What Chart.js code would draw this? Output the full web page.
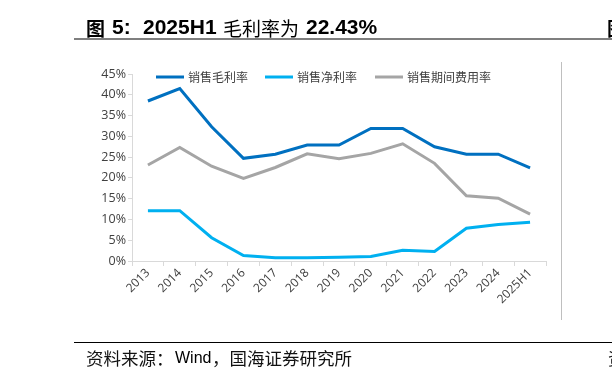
<!DOCTYPE html>
<html><head><meta charset="utf-8">
<script src="https://cdn.jsdelivr.net/npm/chart.js@4/dist/chart.umd.min.js"></script>
<style>
html,body{margin:0;padding:0;background:#fff;width:612px;height:379px;overflow:hidden;position:relative;}
#wrap{position:absolute;left:0;top:0;width:612px;height:379px;}
.t{position:absolute;white-space:nowrap;line-height:1;}
.tb{font:bold 21px "Liberation Sans",sans-serif;color:#000;top:15px;}
.tc{font:19px "Noto Sans CJK SC",sans-serif;color:#000;top:14px;}
#tline{position:absolute;left:74px;top:38px;width:538px;height:2px;background:#7f7f7f;}
#bline{position:absolute;left:74px;top:342px;width:538px;height:1px;background:#000;}
.fc{font:17.5px "Noto Sans CJK SC",sans-serif;color:#111;top:345px;}
.fl{font:16px "Liberation Sans",sans-serif;color:#000;top:349px;}
#vline{position:absolute;left:561px;top:62px;width:1px;height:258px;background:#bfbfbf;}
</style></head>
<body>
<div id="wrap"><canvas id="c" width="612" height="379"></canvas></div>
<div class="t tc" style="left:86px;font-weight:bold;">图</div>
<div class="t tb" style="left:112px;">5:</div>
<div class="t tb" style="left:143px;">2025H1</div>
<div class="t tc" style="left:223px;">毛利率为</div>
<div class="t tb" style="left:306px;">22.43%</div>
<div id="tline"></div>
<div id="vline"></div>
<div id="bline"></div>
<div class="t fc" style="left:86px;">资料来源：</div>
<div class="t fl" style="left:175px;">Wind</div>
<div class="t fc" style="left:212px;">，国海证券研究所</div>
<div class="t tc" style="left:607px;font-weight:bold;">图</div>
<div class="t fc" style="left:608px;">资</div>
<script>
const categories = ["2013","2014","2015","2016","2017","2018","2019","2020","2021","2022","2023","2024","2025H1"];
const grossMargin = [38.5, 41.5, 32.3, 24.7, 25.7, 27.9, 27.9, 31.9, 31.9, 27.5, 25.7, 25.7, 22.43];
const netMargin = [12.1, 12.1, 5.6, 1.3, 0.8, 0.8, 0.9, 1.1, 2.6, 2.3, 7.9, 8.8, 9.3];
const expenseRatio = [23.1, 27.3, 22.8, 19.9, 22.5, 25.8, 24.6, 25.9, 28.2, 23.5, 15.7, 15.1, 11.3];
const seriesNames = ["销售毛利率","销售净利率","销售期间费用率"];
const yTicks = [0,5,10,15,20,25,30,35,40,45];

const colors = ["#0070C0","#00B0F0","#A5A5A5"];
const legendX = [156, 265, 375];

const legendPlugin = {
  id: 'customLegend',
  afterDraw(chart) {
    const ctx = chart.ctx;
    ctx.save();
    chart.data.datasets.forEach((ds, i) => {
      const x = legendX[i], y = 77;
      ctx.strokeStyle = ds.borderColor;
      ctx.lineWidth = 3;
      ctx.beginPath(); ctx.moveTo(x, y); ctx.lineTo(x + 28, y); ctx.stroke();
      ctx.fillStyle = '#404040';
      ctx.font = '12px "Noto Sans CJK SC", sans-serif';
      ctx.textBaseline = 'middle';
      ctx.fillText(ds.label, x + 32, y);
    });
    ctx.restore();
  }
};

new Chart(document.getElementById('c'), {
  type: 'line',
  data: {
    labels: categories,
    datasets: [
      {label: seriesNames[0], data: grossMargin, borderColor: colors[0]},
      {label: seriesNames[1], data: netMargin, borderColor: colors[1]},
      {label: seriesNames[2], data: expenseRatio, borderColor: colors[2]}
    ].map(d => Object.assign(d, {borderWidth: 3, pointRadius: 0, tension: 0, fill: false, backgroundColor: d.borderColor}))
  },
  options: {
    responsive: false,
    animation: false,
    layout: {padding: {left: 86, right: 66, top: 74, bottom: 68}},
    plugins: {legend: {display: false}, tooltip: {enabled: false}},
    scales: {
      x: {
        offset: true,
        grid: {display: true, drawOnChartArea: false, drawTicks: true, tickLength: 5, color: '#d9d9d9', offset: true},
        border: {display: true, color: '#d9d9d9', width: 1},
        ticks: {minRotation: 45, maxRotation: 45, color: '#404040', font: {family: '"Open Sans", sans-serif', size: 12}, padding: 0, autoSkip: false},
        afterFit(s) { s.height = 50; }
      },
      y: {
        min: 0, max: 45,
        afterBuildTicks(s) { s.ticks = yTicks.map(v => ({value: v})); },
        grid: {display: true, drawOnChartArea: false, drawTicks: true, tickLength: 4, color: '#d9d9d9'},
        border: {display: true, color: '#d9d9d9', width: 1},
        ticks: {callback: v => v + '%', color: '#404040', font: {family: '"Open Sans", sans-serif', size: 12.5}, padding: 2},
        afterFit(s) { s.width = 46; }
      }
    }
  },
  plugins: [legendPlugin]
});
</script>
</body></html>
